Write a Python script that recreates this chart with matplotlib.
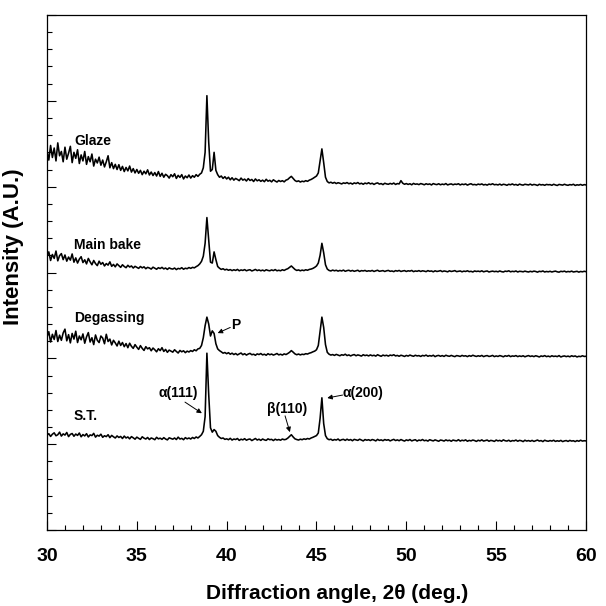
import numpy as np
import matplotlib
matplotlib.use("Agg")
import matplotlib.pyplot as plt

plt.rcParams['font.family'] = ['Liberation Sans', 'DejaVu Sans']

# 2theta grid: 30.0 .. 60.0 step 0.1
two_theta_start, two_theta_stop, two_theta_step = 30.0, 60.0, 0.1

st = [
5.52,5.61,5.45,5.58,5.66,5.49,5.55,5.70,5.47,5.60,
5.53,5.68,5.44,5.57,5.62,5.46,5.59,5.51,5.65,5.43,
5.56,5.48,5.61,5.42,5.54,5.50,5.63,5.41,5.52,5.47,
5.58,5.40,5.49,5.44,5.55,5.38,5.51,5.43,5.36,5.48,
5.39,5.45,5.33,5.47,5.36,5.42,5.31,5.44,5.37,5.29,
5.41,5.34,5.28,5.43,5.35,5.30,5.39,5.27,5.36,5.32,
5.26,5.40,5.31,5.35,5.28,5.38,5.30,5.25,5.37,5.33,
5.29,5.36,5.27,5.41,5.30,5.34,5.26,5.38,5.31,5.36,
5.30,5.39,5.33,5.42,5.36,5.45,5.55,5.75,6.60,10.30,
7.90,5.95,5.70,5.85,5.75,5.50,5.40,5.33,5.36,5.28,
5.31,5.26,5.34,5.24,5.30,5.27,5.33,5.22,5.29,5.25,
5.32,5.23,5.28,5.30,5.21,5.27,5.33,5.24,5.29,5.22,
5.30,5.25,5.22,5.31,5.26,5.28,5.21,5.29,5.24,5.27,
5.23,5.30,5.26,5.28,5.35,5.45,5.55,5.42,5.31,5.27,
5.24,5.29,5.26,5.31,5.28,5.33,5.30,5.36,5.40,5.45,
5.50,5.65,6.50,7.70,6.20,5.50,5.32,5.26,5.29,5.22,
5.27,5.24,5.30,5.21,5.26,5.28,5.22,5.29,5.23,5.27,
5.20,5.28,5.25,5.22,5.29,5.24,5.19,5.27,5.23,5.26,
5.21,5.27,5.24,5.19,5.28,5.22,5.25,5.20,5.27,5.23,
5.26,5.19,5.24,5.28,5.21,5.25,5.20,5.27,5.22,5.18,
5.25,5.21,5.27,5.19,5.23,5.26,5.18,5.24,5.21,5.27,
5.20,5.23,5.18,5.26,5.22,5.19,5.25,5.21,5.17,5.24,
5.22,5.18,5.25,5.20,5.23,5.17,5.24,5.21,5.19,5.26,
5.18,5.23,5.20,5.25,5.17,5.22,5.19,5.24,5.21,5.16,
5.23,5.19,5.25,5.18,5.21,5.24,5.17,5.22,5.20,5.16,
5.24,5.19,5.22,5.17,5.25,5.20,5.18,5.23,5.16,5.21,
5.19,5.24,5.17,5.22,5.20,5.15,5.23,5.18,5.21,5.17,
5.22,5.16,5.20,5.24,5.18,5.21,5.15,5.23,5.19,5.17,
5.21,5.18,5.23,5.16,5.20,5.17,5.22,5.15,5.19,5.21,
5.16,5.22,5.18,5.20,5.15,5.21,5.17,5.23,5.18,5.20,
5.19]

degassing = [
11.25,11.55,10.95,11.40,11.10,11.62,10.98,11.35,11.05,11.48,
11.70,11.02,11.38,10.90,11.45,11.12,11.58,10.92,11.30,11.08,
11.42,10.88,11.25,11.50,10.95,11.20,10.80,11.36,11.05,10.92,
11.30,11.18,10.85,11.40,10.98,11.12,10.78,11.05,10.90,10.72,
11.00,10.75,10.92,10.68,10.86,10.62,10.88,10.70,10.58,10.80,
10.65,10.52,10.74,10.58,10.46,10.68,10.55,10.62,10.44,10.60,
10.50,10.38,10.56,10.45,10.62,10.40,10.52,10.35,10.48,10.42,
10.36,10.50,10.40,10.31,10.46,10.38,10.44,10.33,10.42,10.37,
10.45,10.40,10.50,10.44,10.55,10.58,10.75,11.20,11.90,12.40,
12.00,11.30,11.60,11.45,10.85,10.55,10.45,10.38,10.30,10.34,
10.27,10.33,10.24,10.30,10.22,10.28,10.20,10.26,10.31,10.21,
10.27,10.19,10.25,10.29,10.21,10.24,10.18,10.26,10.22,10.28,
10.20,10.24,10.18,10.27,10.21,10.25,10.19,10.23,10.28,10.20,
10.24,10.19,10.26,10.22,10.28,10.35,10.45,10.36,10.26,10.21,
10.25,10.20,10.24,10.22,10.27,10.25,10.30,10.33,10.38,10.42,
10.50,10.75,11.60,12.40,11.80,10.80,10.35,10.24,10.19,10.22,
10.17,10.23,10.19,10.15,10.21,10.18,10.24,10.16,10.20,10.14,
10.19,10.22,10.15,10.20,10.17,10.13,10.21,10.16,10.19,10.14,
10.20,10.15,10.18,10.13,10.21,10.16,10.12,10.19,10.15,10.18,
10.13,10.19,10.16,10.21,10.14,10.17,10.12,10.18,10.15,10.11,
10.17,10.13,10.19,10.15,10.12,10.18,10.14,10.16,10.11,10.17,
10.14,10.19,10.12,10.16,10.13,10.18,10.10,10.15,10.17,10.12,
10.16,10.11,10.18,10.14,10.12,10.17,10.13,10.10,10.16,10.14,
10.11,10.17,10.13,10.15,10.10,10.16,10.12,10.18,10.14,10.11,
10.15,10.12,10.17,10.10,10.14,10.16,10.11,10.13,10.17,10.10,
10.14,10.11,10.16,10.13,10.09,10.15,10.12,10.17,10.10,10.14,
10.12,10.16,10.10,10.14,10.11,10.15,10.09,10.13,10.16,10.11,
10.14,10.10,10.15,10.12,10.08,10.14,10.11,10.16,10.10,10.13,
10.09,10.15,10.11,10.13,10.10,10.16,10.08,10.12,10.14,10.10,
10.13,10.09,10.15,10.11,10.14,10.08,10.12,10.10,10.15,10.11,
10.12]

main_bake = [
15.95,16.20,15.70,16.05,15.82,16.25,15.68,15.98,16.10,15.75,
16.02,15.66,15.90,15.72,16.08,15.60,15.85,15.55,15.78,15.92,
15.58,15.74,15.50,15.82,15.62,15.45,15.70,15.52,15.40,15.66,
15.48,15.58,15.38,15.52,15.43,15.62,15.36,15.47,15.33,15.50,
15.40,15.30,15.45,15.35,15.28,15.42,15.32,15.38,15.26,15.36,
15.30,15.24,15.35,15.27,15.33,15.22,15.30,15.26,15.20,15.31,
15.25,15.19,15.28,15.23,15.30,15.21,15.26,15.18,15.27,15.22,
15.20,15.26,15.17,15.24,15.21,15.28,15.19,15.25,15.22,15.29,
15.24,15.30,15.27,15.34,15.40,15.50,15.65,15.95,16.70,18.20,
16.90,15.60,15.55,16.20,15.75,15.35,15.25,15.18,15.22,15.15,
15.19,15.13,15.17,15.11,15.16,15.12,15.18,15.10,15.15,15.12,
15.17,15.10,15.14,15.16,15.09,15.13,15.18,15.11,15.15,15.10,
15.14,15.09,15.16,15.12,15.10,15.15,15.11,15.17,15.10,15.13,
15.10,15.16,15.12,15.18,15.22,15.30,15.38,15.28,15.18,15.12,
15.15,15.10,15.14,15.11,15.16,15.13,15.18,15.20,15.24,15.30,
15.38,15.55,16.00,16.70,16.15,15.45,15.20,15.12,15.09,15.14,
15.10,15.13,15.08,15.12,15.09,15.14,15.07,15.11,15.13,15.08,
15.12,15.07,15.10,15.13,15.06,15.11,15.09,15.12,15.07,15.10,
15.08,15.12,15.06,15.10,15.13,15.07,15.09,15.11,15.06,15.10,
15.12,15.07,15.09,15.05,15.11,15.08,15.12,15.06,15.09,15.11,
15.06,15.10,15.08,15.12,15.05,15.09,15.07,15.11,15.06,15.10,
15.08,15.05,15.11,15.07,15.09,15.04,15.10,15.06,15.08,15.11,
15.05,15.09,15.07,15.04,15.10,15.06,15.08,15.11,15.05,15.07,
15.09,15.04,15.08,15.06,15.10,15.05,15.07,15.03,15.09,15.06,
15.08,15.05,15.10,15.04,15.07,15.09,15.03,15.06,15.08,15.05,
15.07,15.04,15.09,15.05,15.03,15.08,15.06,15.10,15.04,15.07,
15.05,15.09,15.03,15.07,15.06,15.04,15.08,15.05,15.03,15.07,
15.04,15.08,15.06,15.02,15.07,15.05,15.09,15.03,15.06,15.04,
15.07,15.03,15.06,15.08,15.04,15.02,15.07,15.05,15.08,15.03,
15.06,15.04,15.08,15.03,15.05,15.07,15.02,15.06,15.04,15.07,
15.05]

glaze = [
22.10,21.55,22.40,21.70,22.25,21.50,22.55,21.80,22.05,21.45,
22.30,21.60,21.95,22.35,21.40,22.00,21.65,22.15,21.35,21.85,
21.50,22.05,21.30,21.75,21.45,21.90,21.20,21.60,21.38,21.72,
21.25,21.55,21.15,21.45,21.80,21.10,21.40,21.05,21.30,21.00,
21.28,20.95,21.18,20.88,21.12,20.92,21.20,20.85,21.05,20.80,
21.00,20.78,20.95,20.70,20.90,20.75,20.98,20.68,20.85,20.65,
20.82,20.62,20.88,20.60,20.78,20.55,20.72,20.64,20.50,20.70,
20.58,20.75,20.48,20.66,20.54,20.70,20.45,20.62,20.52,20.68,
20.50,20.64,20.55,20.70,20.60,20.72,20.80,21.10,22.00,25.30,
22.60,20.90,21.00,22.00,20.95,20.70,20.55,20.62,20.48,20.58,
20.45,20.55,20.40,20.52,20.38,20.48,20.42,20.35,20.50,20.38,
20.44,20.33,20.47,20.36,20.42,20.30,20.45,20.34,20.40,20.31,
20.38,20.29,20.43,20.32,20.37,20.28,20.40,20.33,20.27,20.36,
20.30,20.35,20.28,20.38,20.42,20.52,20.60,20.48,20.36,20.30,
20.34,20.27,20.32,20.29,20.35,20.31,20.38,20.42,20.48,20.55,
20.62,20.80,21.50,22.20,21.40,20.55,20.30,20.22,20.26,20.20,
20.25,20.18,20.23,20.20,20.16,20.22,20.19,20.24,20.17,20.21,
20.15,20.22,20.18,20.24,20.16,20.20,20.14,20.21,20.17,20.23,
20.16,20.20,20.13,20.19,20.22,20.15,20.18,20.12,20.20,20.16,
20.14,20.19,20.15,20.21,20.13,20.18,20.16,20.35,20.20,20.14,
20.18,20.13,20.17,20.11,20.19,20.14,20.16,20.12,20.18,20.15,
20.11,20.17,20.13,20.16,20.10,20.18,20.14,20.12,20.17,20.11,
20.15,20.12,20.18,20.10,20.14,20.16,20.11,20.15,20.13,20.17,
20.10,20.15,20.12,20.16,20.09,20.14,20.17,20.11,20.13,20.10,
20.15,20.12,20.16,20.10,20.13,20.09,20.15,20.12,20.17,20.11,
20.13,20.10,20.15,20.09,20.14,20.12,20.08,20.14,20.11,20.16,
20.10,20.13,20.08,20.15,20.11,20.09,20.14,20.12,20.10,20.15,
20.09,20.13,20.11,20.07,20.14,20.10,20.12,20.08,20.13,20.11,
20.12,20.08,20.14,20.10,20.07,20.13,20.11,20.09,20.14,20.10,
20.08,20.12,20.10,20.14,20.07,20.11,20.09,20.13,20.08,20.12,
20.10]

series_names = ["S.T.", "Degassing", "Main bake", "Glaze"]
label_y = [6.64, 12.35, 16.6, 22.66]

x_ticks = [30, 35, 40, 45, 50, 55, 60]

# annotations: (text, text_xy, arrow_start, arrow_tip)
annotations = [
    ("α(111)", (37.3, 7.98), (37.68, 7.45), (38.62, 6.8)),
    ("β(110)", (43.35, 7.05), (43.25, 6.65), (43.52, 5.7)),
    ("α(200)", (47.6, 7.98), (46.45, 7.86), (45.6, 7.69)),
    ("P", (40.5, 11.94), (40.2, 11.8), (39.5, 11.47)),
]

two_theta = np.round(np.arange(two_theta_start, two_theta_stop + two_theta_step / 2, two_theta_step), 2)

fig = plt.figure(figsize=(6.06, 6.06), dpi=100)
ax = fig.add_axes([47/606, 76/606, 539/606, 515/606])

for ys in [st, degassing, main_bake, glaze]:
    ax.plot(two_theta, ys, color='black', lw=1.15)

for name, yy in zip(series_names, label_y):
    ax.text(31.5, yy, name, ha='left', va='center', fontsize=10, fontweight='bold')

for txt, txy, start, tip in annotations:
    ax.text(txy[0], txy[1], txt, ha='center', va='center', fontsize=10, fontweight='bold')
    ax.annotate("", xy=tip, xytext=start,
                arrowprops=dict(arrowstyle='-|>', lw=0.7, color='black', mutation_scale=7,
                                shrinkA=0, shrinkB=0))

ax.set_xlim(30, 60)
ax.set_ylim(0, 30)
ax.set_xticks(x_ticks)
ax.set_xticks(np.arange(30, 61, 1), minor=True)
ax.set_yticks(np.arange(0, 31, 5))
ax.set_yticks(np.arange(0, 31, 1), minor=True)
ax.set_yticklabels([])
ax.tick_params(axis='both', which='major', direction='in', length=6.5, width=0.8,
               top=False, right=False)
ax.tick_params(axis='both', which='minor', direction='in', length=3.5, width=0.8,
               top=False, right=False)
ax.tick_params(axis='x', which='major', labelsize=14, pad=13)
for lab in ax.get_xticklabels():
    lab.set_fontweight('bold')
for sp in ax.spines.values():
    sp.set_linewidth(0.9)

ax.set_xlabel("Diffraction angle, 2θ (deg.)", fontsize=15, fontweight='bold')
ax.xaxis.set_label_coords(0.538, -0.105)
ax.set_ylabel("Intensity (A.U.)", fontsize=16, fontweight='bold')
ax.yaxis.set_label_coords(-0.042, 0.55)

fig.savefig("out.png", dpi=100)
